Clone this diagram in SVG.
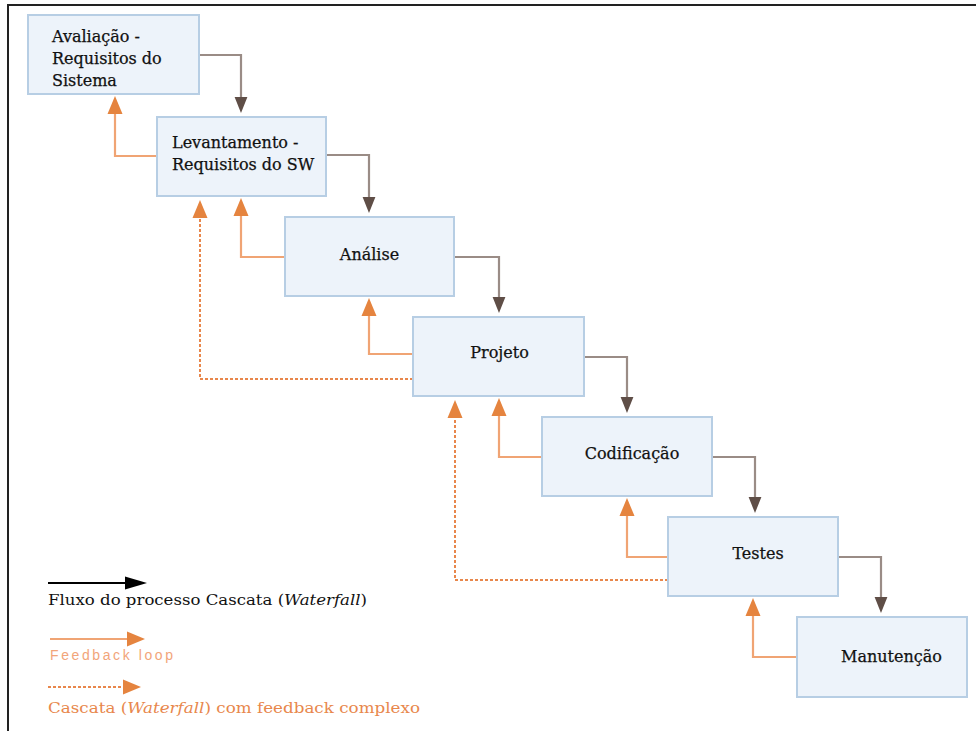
<svg xmlns="http://www.w3.org/2000/svg" width="976" height="731" viewBox="0 0 976 731">
<style>
.box{fill:#edf3fa;stroke:#b7cee4;stroke-width:2}
.lbl{font-family:"DejaVu Serif","Liberation Serif",serif;font-size:16px;fill:#111;stroke:#111;stroke-width:0.25}
.flow{fill:none;stroke:#9a8c86;stroke-width:2.2}
.fb{fill:none;stroke:#f0a474;stroke-width:2.2}
.fbd{fill:none;stroke:#e8874c;stroke-width:2;stroke-dasharray:3 2}
.leg{font-family:"DejaVu Serif","Liberation Serif",serif;font-size:15.5px}
</style>
<defs>
<marker id="mGray" markerUnits="userSpaceOnUse" markerWidth="16" markerHeight="20" viewBox="0 0 20 16" refX="0" refY="8" orient="auto" overflow="visible">
<path d="M0,0 L20,8 L0,16 z" fill="#5f4e47"/>
</marker>
<marker id="mOr" markerUnits="userSpaceOnUse" markerWidth="18" markerHeight="15" viewBox="0 0 18 15" refX="0" refY="7.5" orient="auto" overflow="visible">
<path d="M0,0 L18,7.5 L0,15 z" fill="#e5843f"/>
</marker>
<marker id="mBlk" markerUnits="userSpaceOnUse" markerWidth="22" markerHeight="13" viewBox="0 0 22 13" refX="0" refY="6.5" orient="auto" overflow="visible">
<path d="M0,0 L22,6.5 L0,13 z" fill="#000"/>
</marker>
</defs>
<rect width="976" height="731" fill="#fff"/>
<path d="M8,731 V5 H976" fill="none" stroke="#222" stroke-width="2"/>

<g id="connectors">
<path class="flow" d="M199,55 H241 V97" marker-end="url(#mGray)"/>
<path class="flow" d="M326,155 H369 V197" marker-end="url(#mGray)"/>
<path class="flow" d="M454,257 H499 V297" marker-end="url(#mGray)"/>
<path class="flow" d="M584,357 H627 V397" marker-end="url(#mGray)"/>
<path class="flow" d="M712,457 H755 V497" marker-end="url(#mGray)"/>
<path class="flow" d="M838,557 H881 V597" marker-end="url(#mGray)"/>
<path class="fb" d="M157,156 H115 V114" marker-end="url(#mOr)"/>
<path class="fb" d="M285,257 H241 V216" marker-end="url(#mOr)"/>
<path class="fb" d="M413,354 H369 V316" marker-end="url(#mOr)"/>
<path class="fb" d="M542,457 H499 V416" marker-end="url(#mOr)"/>
<path class="fb" d="M668,557 H627 V516" marker-end="url(#mOr)"/>
<path class="fb" d="M797,657 H753 V616" marker-end="url(#mOr)"/>
<path class="fbd" d="M413,379 H200 V218" marker-end="url(#mOr)"/>
<path class="fbd" d="M668,580 H455 V418" marker-end="url(#mOr)"/>
</g>

<g id="n1"><rect class="box" x="28" y="15" width="171" height="79"/>
<text class="lbl"><tspan x="52" y="42">Avaliação -</tspan><tspan x="52" y="64">Requisitos do</tspan><tspan x="52" y="86">Sistema</tspan></text></g>
<g id="n2"><rect class="box" x="157" y="117" width="169" height="79"/>
<text class="lbl"><tspan x="172" y="148">Levantamento -</tspan><tspan x="172" y="170">Requisitos do SW</tspan></text></g>
<g id="n3"><rect class="box" x="285" y="217" width="169" height="79"/>
<text class="lbl" x="369.5" y="260" text-anchor="middle">Análise</text></g>
<g id="n4"><rect class="box" x="413" y="317" width="171" height="79"/>
<text class="lbl" x="499.5" y="358" text-anchor="middle">Projeto</text></g>
<g id="n5"><rect class="box" x="542" y="417" width="170" height="79"/>
<text class="lbl" x="632" y="459" text-anchor="middle">Codificação</text></g>
<g id="n6"><rect class="box" x="668" y="517" width="170" height="79"/>
<text class="lbl" x="758" y="559" text-anchor="middle">Testes</text></g>
<g id="n7"><rect class="box" x="797" y="617" width="170" height="80"/>
<text class="lbl" x="891.5" y="662" text-anchor="middle">Manutenção</text></g>

<g id="legend">
<path d="M48,583 H125" stroke="#000" stroke-width="2" marker-end="url(#mBlk)"/>
<text class="leg" x="48" y="605" fill="#111" textLength="319" lengthAdjust="spacingAndGlyphs">Fluxo do processo Cascata (<tspan font-style="italic">Waterfall</tspan>)</text>
<path d="M50,639 H127" stroke="#f0a474" stroke-width="2" marker-end="url(#mOr)"/>
<text x="50" y="660" font-family="'Liberation Sans',Arial,sans-serif" font-size="14" fill="#f2a57a" textLength="123" lengthAdjust="spacing">Feedback loop</text>
<path class="fbd" d="M48,687 H123" marker-end="url(#mOr)"/>
<text class="leg" x="48" y="713" fill="#e8874c" textLength="372" lengthAdjust="spacingAndGlyphs">Cascata (<tspan font-style="italic">Waterfall</tspan>) com feedback complexo</text>
</g>
</svg>
